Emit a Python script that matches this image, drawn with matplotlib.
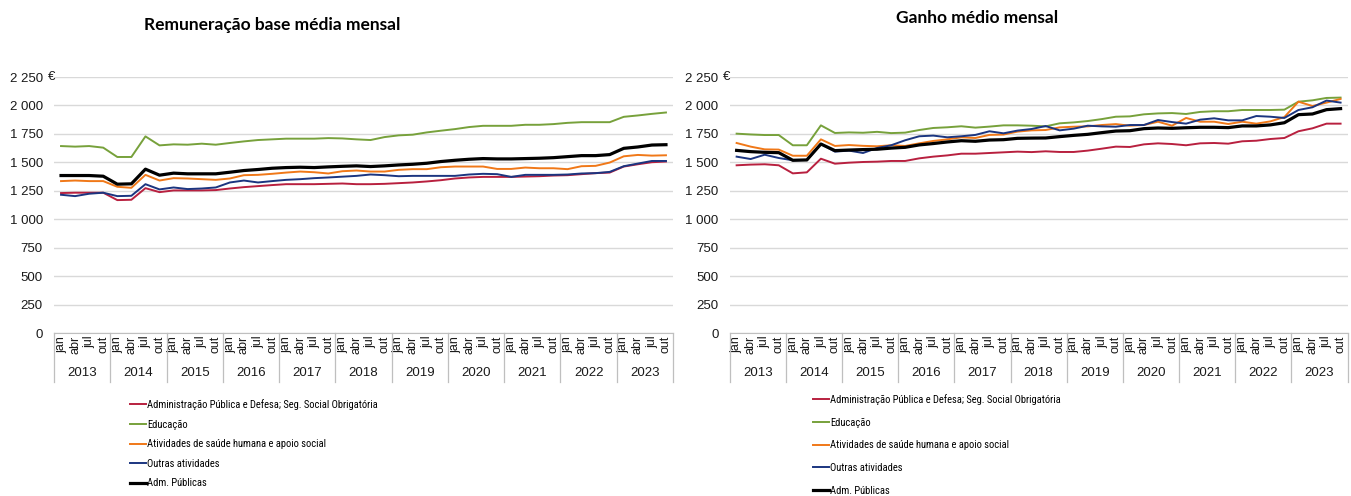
import matplotlib
matplotlib.use("Agg")
import matplotlib.pyplot as plt
import matplotlib.transforms as mtransforms
from matplotlib import font_manager

plt.rcParams['font.family'] = ['Liberation Sans', 'DejaVu Sans']

# look for a narrow face for the legend (the original uses Arial Narrow)
installed = {(f.name, f.stretch) for f in font_manager.fontManager.ttflist}
narrow = None
for name in ['Liberation Sans Narrow', 'Arial Narrow', 'Roboto Condensed', 'Open Sans Condensed',
             'Noto Sans Condensed', 'DejaVu Sans Condensed']:
    if any(n == name for n, _ in installed):
        narrow = dict(family=name)
        break
if narrow is None:
    for n, st in installed:
        if n in ('Noto Sans', 'DejaVu Sans', 'Roboto', 'Open Sans') and str(st) in ('condensed', 'semi-condensed', '75', '87'):
            narrow = dict(family=n, stretch=st)
            break

title_family = 'Lato' if any(n == 'Lato' for n, _ in installed) else 'Liberation Sans'

years = ['2013', '2014', '2015', '2016', '2017', '2018', '2019', '2020', '2021', '2022', '2023']
months = ['jan', 'abr', 'jul', 'out']
series_names = ['Administração Pública e Defesa; Seg. Social Obrigatória', 'Educação',
                'Atividades de saúde humana e apoio social', 'Outras atividades', 'Adm. Públicas']
colors = ['#b8203f', '#77a13b', '#f07818', '#1b3580', '#000000']
widths = [1.4, 1.4, 1.4, 1.4, 2.3]

# Remuneração base média mensal
base_admdef = [1230, 1233, 1233, 1233, 1168, 1171, 1273, 1238, 1253, 1253, 1253, 1256, 1270, 1282, 1291,
               1300, 1308, 1308, 1308, 1311, 1314, 1308, 1308, 1311, 1317, 1323, 1332, 1343, 1358, 1367,
               1372, 1372, 1372, 1375, 1378, 1384, 1387, 1396, 1405, 1410, 1463, 1483, 1501, 1507]
base_educ = [1643, 1638, 1643, 1629, 1547, 1547, 1728, 1649, 1658, 1655, 1664, 1655, 1670, 1684, 1696,
             1702, 1708, 1708, 1708, 1713, 1710, 1702, 1696, 1722, 1737, 1743, 1763, 1778, 1792, 1810,
             1821, 1821, 1821, 1830, 1830, 1836, 1847, 1853, 1853, 1853, 1900, 1912, 1926, 1938]
base_saude = [1335, 1340, 1335, 1335, 1285, 1276, 1390, 1340, 1361, 1358, 1352, 1346, 1358, 1387, 1390,
              1399, 1410, 1419, 1413, 1402, 1422, 1428, 1419, 1419, 1434, 1440, 1440, 1457, 1463, 1463,
              1463, 1442, 1442, 1454, 1448, 1448, 1440, 1466, 1469, 1498, 1553, 1565, 1559, 1562]
base_outras = [1215, 1203, 1224, 1233, 1203, 1206, 1308, 1262, 1279, 1265, 1270, 1279, 1323, 1340, 1323,
               1335, 1346, 1352, 1361, 1367, 1374, 1381, 1393, 1387, 1378, 1381, 1381, 1381, 1381, 1393,
               1399, 1396, 1372, 1390, 1390, 1390, 1393, 1402, 1405, 1416, 1466, 1489, 1512, 1512]
base_admpub = [1384, 1384, 1384, 1378, 1308, 1311, 1440, 1387, 1405, 1399, 1399, 1399, 1413, 1428, 1437,
               1448, 1454, 1457, 1454, 1460, 1465, 1469, 1463, 1469, 1477, 1483, 1492, 1507, 1518, 1527,
               1533, 1530, 1530, 1533, 1536, 1541, 1550, 1559, 1559, 1568, 1623, 1635, 1652, 1655]

# Ganho médio mensal
ganho_admdef = [1474, 1480, 1483, 1474, 1403, 1412, 1532, 1488, 1497, 1503, 1506, 1512, 1512, 1535, 1550,
                1561, 1576, 1576, 1582, 1588, 1594, 1590, 1597, 1591, 1591, 1603, 1620, 1638, 1635, 1658,
                1667, 1661, 1650, 1667, 1670, 1664, 1685, 1690, 1705, 1714, 1773, 1799, 1840, 1840]
ganho_educ = [1752, 1745, 1740, 1740, 1650, 1650, 1825, 1758, 1763, 1760, 1768, 1757, 1761, 1784, 1802,
              1808, 1817, 1805, 1814, 1825, 1825, 1822, 1816, 1843, 1851, 1863, 1880, 1901, 1904, 1922,
              1930, 1933, 1925, 1943, 1949, 1949, 1960, 1960, 1960, 1963, 2033, 2045, 2066, 2069]
ganho_saude = [1670, 1638, 1614, 1612, 1558, 1558, 1702, 1644, 1652, 1645, 1641, 1650, 1644, 1667, 1688,
               1702, 1720, 1714, 1741, 1744, 1770, 1781, 1784, 1807, 1813, 1816, 1828, 1836, 1822, 1828,
               1857, 1822, 1890, 1857, 1857, 1837, 1857, 1840, 1860, 1898, 2033, 1995, 2025, 2057]
ganho_outras = [1550, 1529, 1567, 1538, 1518, 1521, 1661, 1594, 1603, 1582, 1626, 1650, 1694, 1729, 1735,
                1720, 1729, 1741, 1773, 1755, 1779, 1793, 1819, 1781, 1796, 1822, 1816, 1813, 1828, 1828,
                1872, 1854, 1840, 1875, 1887, 1869, 1869, 1907, 1901, 1890, 1960, 1984, 2043, 2025]
ganho_admpub = [1605, 1594, 1588, 1585, 1518, 1521, 1661, 1603, 1608, 1612, 1615, 1625, 1632, 1653, 1665,
                1679, 1690, 1685, 1696, 1699, 1711, 1713, 1714, 1726, 1737, 1746, 1761, 1775, 1778, 1796,
                1802, 1799, 1804, 1808, 1808, 1805, 1820, 1820, 1829, 1848, 1919, 1925, 1963, 1972]

yticks = [0, 250, 500, 750, 1000, 1250, 1500, 1750, 2000, 2250]


def draw_panel(fig, rect, title, title_xy, data, legend_xy, legend_gap):
    ax = fig.add_axes(rect)
    n = len(years) * len(months)
    x = list(range(n))
    for vals, name, c, w in zip(data, series_names, colors, widths):
        ax.plot(x, vals, color=c, lw=w, label=name, solid_joinstyle='round')
    ax.set_xlim(-0.5, n - 0.5)
    ax.set_ylim(0, 2250)
    ax.set_yticks(yticks)
    ax.set_yticklabels([f"{v:,}".replace(",", " ") for v in yticks], fontsize=9.5, color='#1a1a1a')
    ax.yaxis.grid(True, color='#d9d9d9', lw=1.0)
    ax.set_axisbelow(True)
    ax.tick_params(axis='y', length=0, pad=8)
    # euro sign after the top tick label
    ax.annotate('€', xy=(0, 2250), xycoords=('axes fraction', 'data'), xytext=(-2, 0),
                textcoords='offset points', ha='center', va='center', fontsize=9.5, color='#1a1a1a')
    for s in ['left', 'right', 'top']:
        ax.spines[s].set_visible(False)
    ax.spines['bottom'].set_color('#bfbfbf')
    ax.set_xticks(x)
    ax.set_xticklabels(months * len(years), rotation=90, fontsize=9, color='#1a1a1a')
    ax.tick_params(axis='x', length=0, pad=2)

    trans = mtransforms.blended_transform_factory(ax.transData, ax.transAxes)
    k = len(months)
    for i in range(len(years) + 1):
        ax.plot([i * k - 0.5, i * k - 0.5], [0, -0.19], transform=trans, color='#bfbfbf',
                lw=0.9, clip_on=False)
    for i, yr in enumerate(years):
        ax.text(i * k + 1.5, -0.155, yr, transform=trans, ha='center', va='center',
                fontsize=9.5, color='#1a1a1a')

    fig.text(title_xy[0], title_xy[1], title, ha='center', va='center', fontsize=12.5,
             fontweight='bold', family=title_family)

    prop = dict(size=7.6)
    if narrow:
        prop.update(narrow)
    else:
        prop['size'] = 7.0
    fig.legend(*ax.get_legend_handles_labels(), loc='upper left',
               bbox_to_anchor=legend_xy, frameon=False, prop=prop,
               handlelength=1.5, handletextpad=0.1, borderpad=0,
               labelspacing=legend_gap, borderaxespad=0)
    return ax


fig = plt.figure(figsize=(13.51, 4.96), dpi=100)
W, H = 1351, 496

draw_panel(fig, [54 / W, 1 - 333 / H, 619 / W, (333 - 77) / H],
           'Remuneração base média mensal', (272 / W, 1 - 25 / H),
           [base_admdef, base_educ, base_saude, base_outras, base_admpub],
           (130 / W, 1 - 399 / H), 0.91)
draw_panel(fig, [729.6 / W, 1 - 333 / H, 618 / W, (333 - 77) / H],
           'Ganho médio mensal', (977 / W, 1 - 18 / H),
           [ganho_admdef, ganho_educ, ganho_saude, ganho_outras, ganho_admpub],
           (813 / W, 1 - 394 / H), 1.2)

fig.savefig('out.png', dpi=100)
